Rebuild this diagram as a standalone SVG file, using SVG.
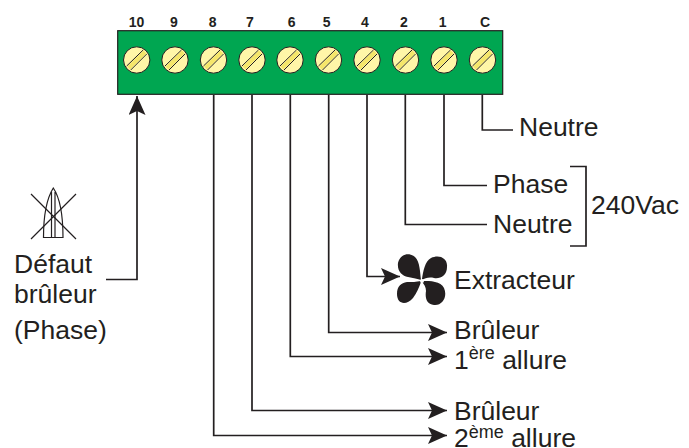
<svg xmlns="http://www.w3.org/2000/svg" width="689" height="448" viewBox="0 0 689 448">
<defs>
<marker id="arr" markerUnits="userSpaceOnUse" markerWidth="20" markerHeight="18" refX="19" refY="8.500" orient="auto"><path d="M0 0L19 8.500L0 17L4 8.500Z" fill="#231f20"/></marker>
<g id="screw"><circle r="13.200" fill="#fff6a8" stroke="#231f20" stroke-width="1"/><path d="M-10 6L6.500 -10M-6 10L10 -6" stroke="#231f20" stroke-width="1" fill="none"/><path d="M-8 8L8.250 -8" stroke="#f5e66a" stroke-width="4" fill="none"/></g>
</defs>
<style>
text{font-family:"Liberation Sans",Arial,sans-serif;fill:#231f20}
.l{font-size:26.500px}
.n{font-size:14px;font-weight:bold;text-anchor:middle}
.s{font-size:18px}
.w{fill:none;stroke:#231f20;stroke-width:1.700}
</style>
<rect width="689" height="448" fill="#fff"/>
<g id="connectors">
<path class="w" d="M106 279.500H137V96" marker-end="url(#arr)"/>
<path class="w" d="M213.700 95V435.500H447" marker-end="url(#arr)"/>
<path class="w" d="M252 95V410.500H447" marker-end="url(#arr)"/>
<path class="w" d="M290.300 95V356.500H447" marker-end="url(#arr)"/>
<path class="w" d="M328.700 95V332.500H447" marker-end="url(#arr)"/>
<path class="w" d="M367 95V276.500H400" marker-end="url(#arr)"/>
<path class="w" d="M405.300 95V224.500H487"/>
<path class="w" d="M444 95V185.500H487"/>
<path class="w" d="M482.300 95V130H513"/>
<path class="w" d="M570 166.500H586V246H570"/>
</g>
<g id="terminal-block">
<rect x="117.700" y="30.700" width="385" height="63.600" fill="#00a651" stroke="#231f20" stroke-width="1.200"/>
<use href="#screw" x="136.700" y="60"/><use href="#screw" x="175" y="60"/><use href="#screw" x="213.500" y="60"/><use href="#screw" x="252" y="60"/><use href="#screw" x="290" y="60"/><use href="#screw" x="328.500" y="60"/><use href="#screw" x="367" y="60"/><use href="#screw" x="405.500" y="60"/><use href="#screw" x="444" y="60"/><use href="#screw" x="482.500" y="60"/>
<text class="n" x="136.500" y="26.500">10</text><text class="n" x="174" y="26.500">9</text><text class="n" x="212.700" y="26.500">8</text><text class="n" x="250" y="26.500">7</text><text class="n" x="291.700" y="26.500">6</text><text class="n" x="326.700" y="26.500">5</text><text class="n" x="365" y="26.500">4</text><text class="n" x="404" y="26.500">2</text><text class="n" x="442.700" y="26.500">1</text><text class="n" x="485" y="26.500">C</text>
</g>
<g id="burner-symbol" fill="none" stroke="#231f20" stroke-width="1.200">
<path d="M31 194L76 239M76 194L31 239"/>
<path d="M53.300 188C47 198 43.500 212 43.500 237.500H63C63 212 60 198 53.300 188ZM51.500 192V237.500M55 192V237.500"/>
</g>
<g id="fan">
<path fill="#231f20" d="M421 280C420 272 420 262 415 257C409 252 400 254 398 263C397 271 402 276 408 277C413 278 418 279 421 280ZM422 279C423 272 425 261 431 258C439 254 448 258 447 267C447 276 440 279 434 278C429 277 425 278 422 280ZM423 281C430 281 441 281 444 288C448 297 442 306 434 305C426 304 425 297 426 291C426 287 424 284 422 282ZM421 282C419 287 417 293 413 298C406 306 397 304 397 294C397 286 401 283 407 282C412 282 416 282 421 281Z"/>
<circle cx="422" cy="281" r="2" fill="#fff"/>
</g>
<g id="labels">
<text class="l" x="519" y="135.500">Neutre</text>
<text class="l" x="493" y="192.500">Phase</text>
<text class="l" x="493" y="232.500">Neutre</text>
<text class="l" x="591" y="214">240Vac</text>
<text class="l" x="454" y="288.500">Extracteur</text>
<text class="l" x="454" y="338.500">Brûleur</text>
<text class="l" x="454" y="369">1<tspan class="s" dy="-10">ère</tspan><tspan dy="10"> allure</tspan></text>
<text class="l" x="454" y="419.500">Brûleur</text>
<text class="l" x="454" y="447">2<tspan class="s" dy="-9">ème</tspan><tspan dy="9"> allure</tspan></text>
<text class="l" x="14" y="273">Défaut</text>
<text class="l" x="14" y="303">brûleur</text>
<text class="l" x="14" y="338.500">(Phase)</text>
</g>
</svg>
